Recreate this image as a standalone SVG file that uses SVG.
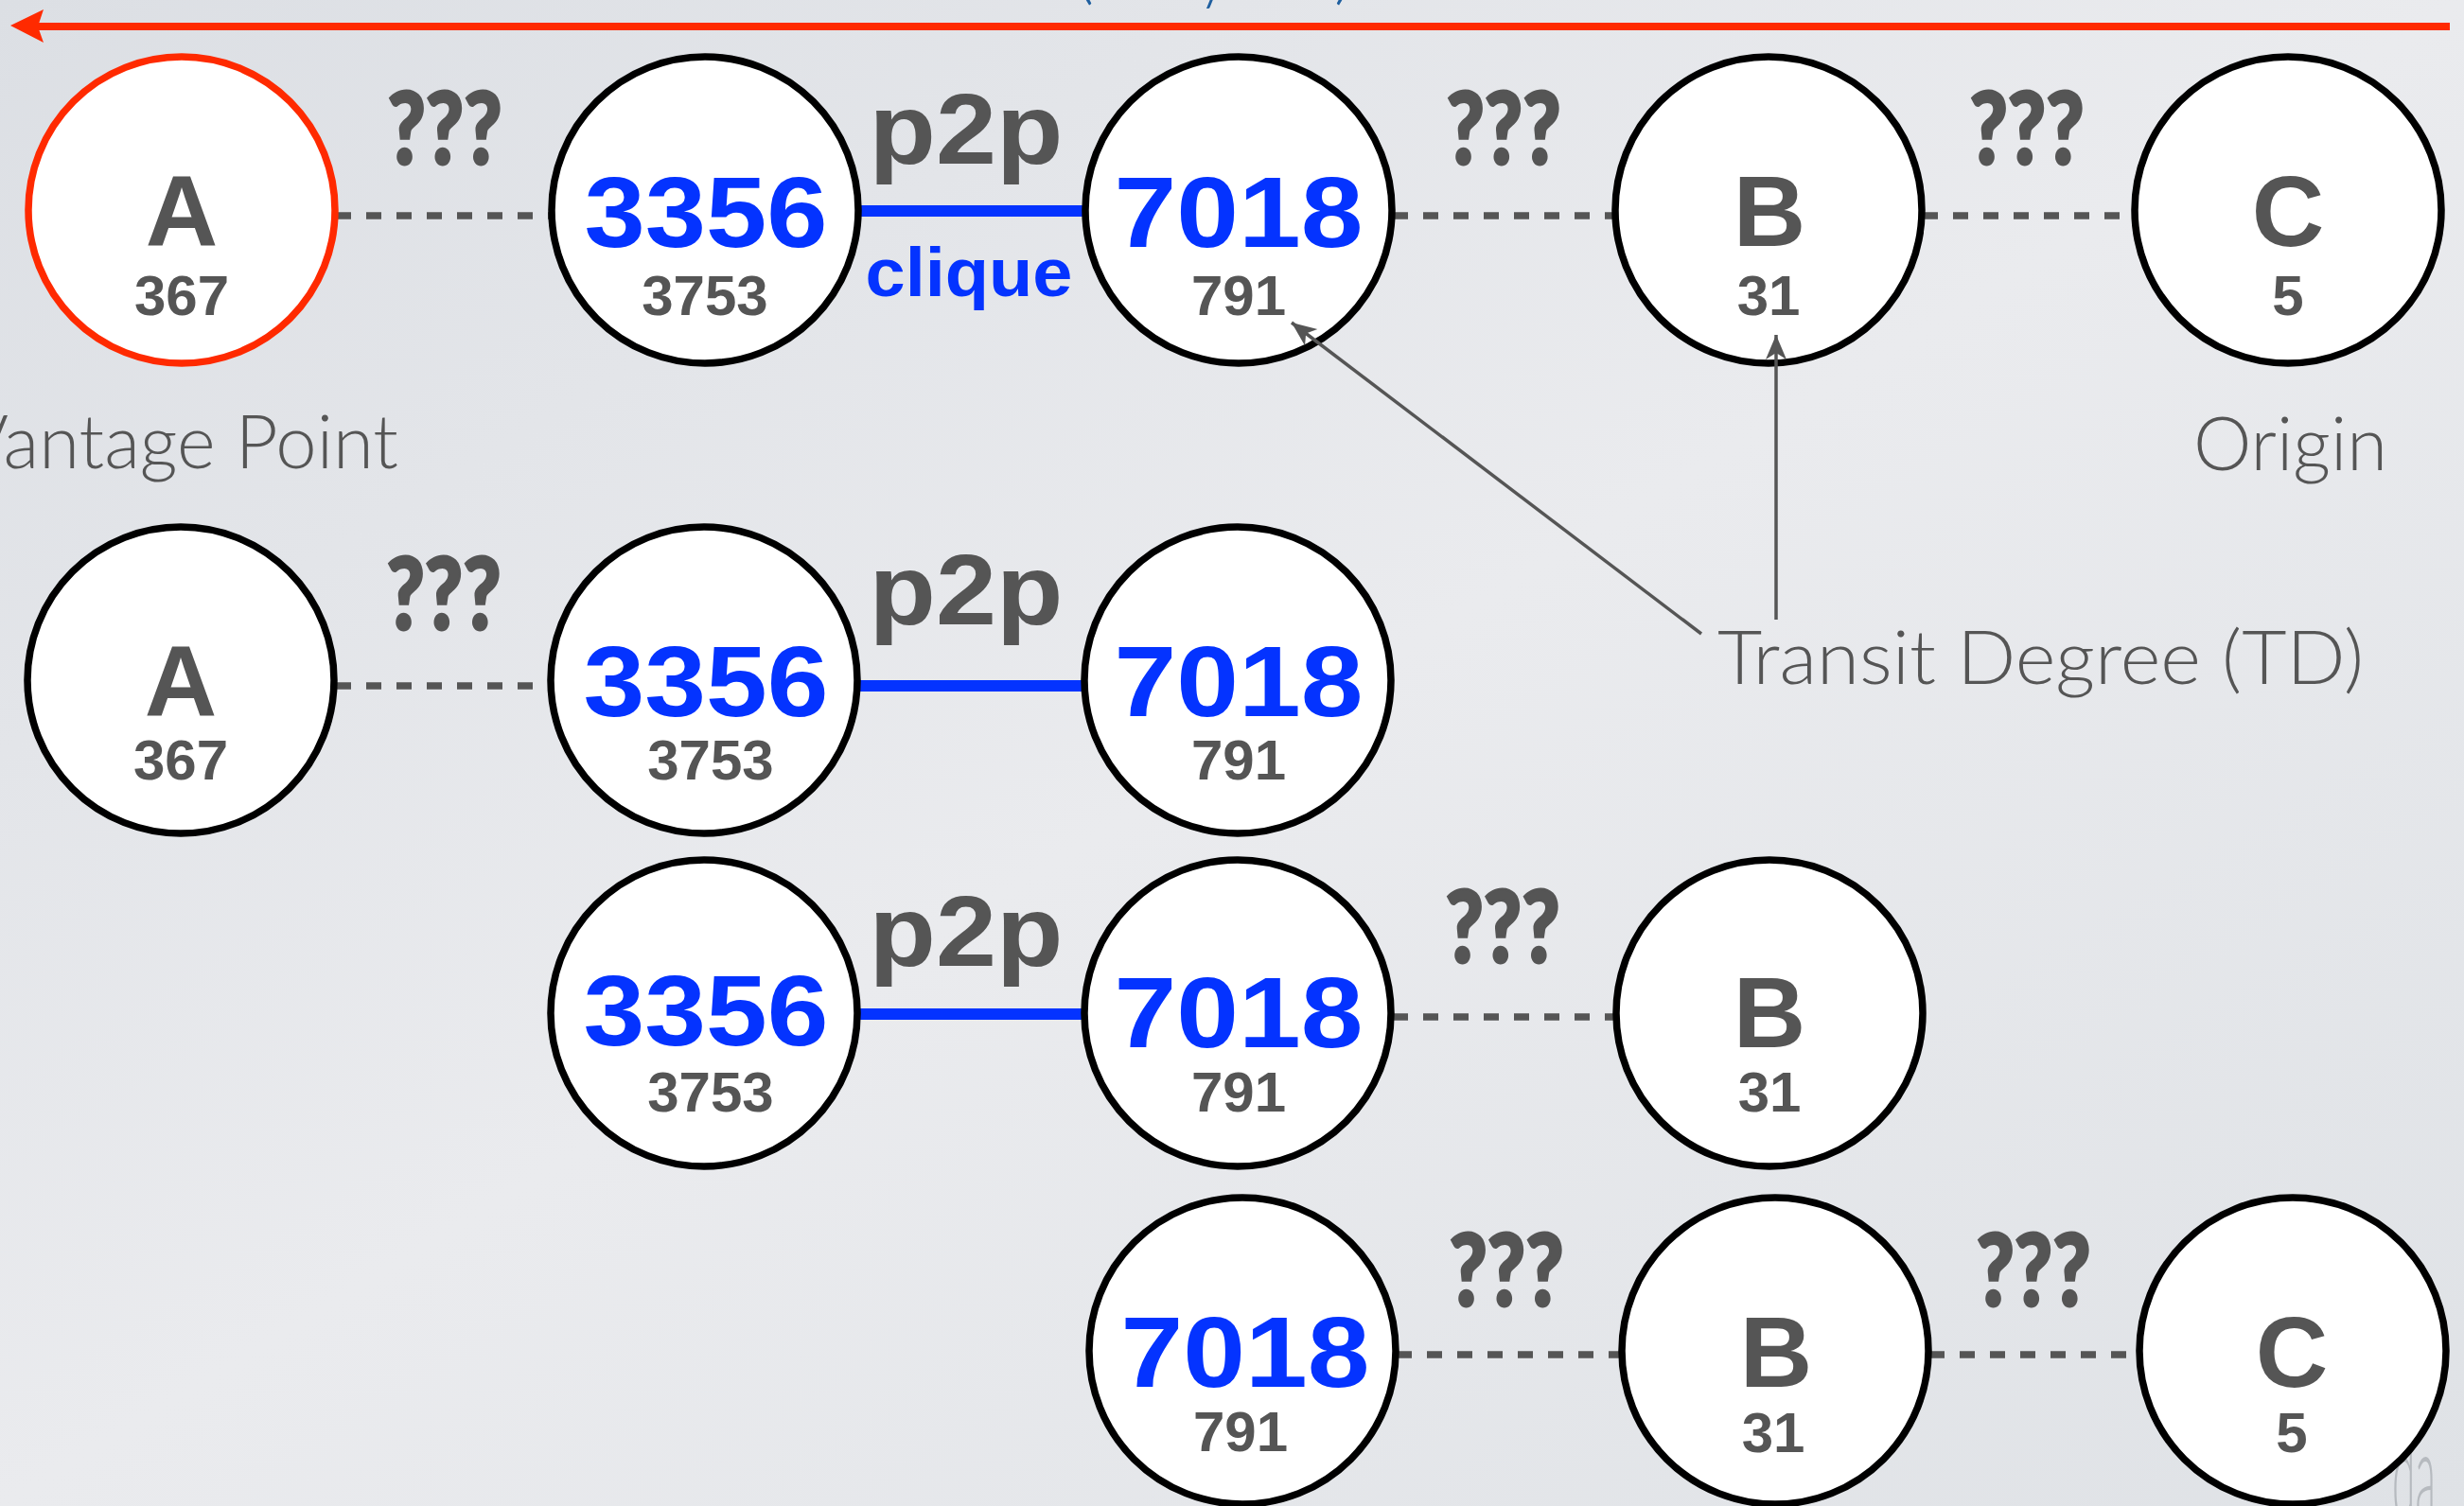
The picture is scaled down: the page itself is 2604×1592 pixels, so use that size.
<svg xmlns="http://www.w3.org/2000/svg" width="2604" height="1592" viewBox="0 0 2604 1592">
  <defs>
    <linearGradient id="bg" x1="0" y1="0" x2="1" y2="1">
      <stop offset="0" stop-color="#dcdfe4"/>
      <stop offset="0.5" stop-color="#eaebee"/>
      <stop offset="1" stop-color="#dfe2e6"/>
    </linearGradient>
    <marker id="tip" markerUnits="userSpaceOnUse" markerWidth="28" markerHeight="24" viewBox="0 0 28 24" refX="26" refY="12" orient="auto">
      <path d="M26,12 L0,1 L7,12 L0,23 Z" fill="#555"/>
    </marker>
  </defs>
  <style>
    .node circle { fill: #fff; stroke: #000; stroke-width: 7.5; }
    .node circle.vp { stroke: #ff2a00; }
    .big { font-family: "Liberation Sans", Arial, sans-serif; font-weight: bold; font-size: 106px; text-anchor: middle; }
    .num { font-family: "Liberation Sans", Arial, sans-serif; font-weight: bold; font-size: 60px; text-anchor: middle; fill: #555; }
    .g { fill: #555; }
    .b { fill: #0433ff; }
    .q { font-family: Lato, "Liberation Sans", Arial, sans-serif; font-weight: 900; font-size: 105px; text-anchor: middle; fill: #555; stroke: #555; stroke-width: 3; }
    .rel { font-family: "Liberation Sans", Arial, sans-serif; font-weight: bold; text-anchor: middle; }
    .light { font-family: Lato, "Open Sans", "Liberation Sans", sans-serif; font-weight: 300; font-size: 78px; fill: #555; }
    .dash { stroke: #555; stroke-width: 7.5; stroke-dasharray: 16 16; fill: none; }
    .peer { stroke: #0433ff; stroke-width: 12; fill: none; }
    .pointer { stroke: #555; stroke-width: 3.5; fill: none; marker-end: url(#tip); }
  </style>

  <rect width="2604" height="1592" fill="url(#bg)"/>

  <!-- heading, mostly above the top edge -->
  <text class="light" style="fill:#1f5f9f" font-size="80"><tspan x="1136" y="-5">(</tspan><tspan x="1272" y="6">/</tspan><tspan x="1410" y="-5">)</tspan></text>

  <!-- faint logo in the corner -->
  <text x="2528" y="1606" font-family="Lato, 'Liberation Sans', sans-serif" font-weight="300" font-size="130" fill="#b6babf" textLength="46" lengthAdjust="spacingAndGlyphs">da</text>

  <!-- path direction -->
  <g id="direction">
    <line x1="2589" y1="28" x2="40" y2="28" stroke="#ff2a00" stroke-width="8"/>
    <polygon points="11,27 46,10 40,28 46,45" fill="#ff2a00"/>
  </g>

  <!-- captions -->
  <text class="light" x="-42" y="495" textLength="463" lengthAdjust="spacingAndGlyphs">Vantage Point</text>
  <text class="light" x="2318" y="497" textLength="205" lengthAdjust="spacingAndGlyphs">Origin</text>
  <text class="light" x="1815" y="723" textLength="683" lengthAdjust="spacingAndGlyphs">Transit Degree (TD)</text>

  <g id="connectors">
    <!-- row 1 -->
    <line class="dash" x1="355" y1="228" x2="583" y2="228"/>
    <line class="peer" x1="906" y1="223" x2="1148" y2="223"/>
    <line class="dash" x1="1472" y1="228" x2="1706" y2="228"/>
    <line class="dash" x1="2032" y1="228" x2="2256" y2="228"/>
    <!-- row 2 -->
    <line class="dash" x1="355" y1="725" x2="583" y2="725"/>
    <line class="peer" x1="906" y1="725" x2="1148" y2="725"/>
    <!-- row 3 -->
    <line class="peer" x1="906" y1="1072" x2="1148" y2="1072"/>
    <line class="dash" x1="1472" y1="1075" x2="1708" y2="1075"/>
    <!-- row 4 -->
    <line class="dash" x1="1476" y1="1432" x2="1713" y2="1432"/>
    <line class="dash" x1="2039" y1="1432" x2="2261" y2="1432"/>

    <!-- link labels -->
    <text class="q" x="470" y="173" textLength="121" lengthAdjust="spacingAndGlyphs">???</text>
    <text class="q" x="1589" y="173" textLength="121" lengthAdjust="spacingAndGlyphs">???</text>
    <text class="q" x="2142" y="173" textLength="121" lengthAdjust="spacingAndGlyphs">???</text>
    <text class="rel g" x="1021" y="173" font-size="105" textLength="205" lengthAdjust="spacingAndGlyphs">p2p</text>
    <text class="rel b" x="1024" y="313" font-size="72" textLength="219" lengthAdjust="spacingAndGlyphs">clique</text>

    <text class="q" x="469" y="665" textLength="121" lengthAdjust="spacingAndGlyphs">???</text>
    <text class="rel g" x="1021" y="660" font-size="105" textLength="205" lengthAdjust="spacingAndGlyphs">p2p</text>

    <text class="rel g" x="1021" y="1021" font-size="105" textLength="205" lengthAdjust="spacingAndGlyphs">p2p</text>
    <text class="q" x="1588" y="1017" textLength="121" lengthAdjust="spacingAndGlyphs">???</text>

    <text class="q" x="1592" y="1380" textLength="121" lengthAdjust="spacingAndGlyphs">???</text>
    <text class="q" x="2149" y="1380" textLength="121" lengthAdjust="spacingAndGlyphs">???</text>
  </g>

  <!-- row 1 -->
  <g id="r1-A" class="node">
    <circle class="vp" cx="192" cy="222" r="162"/>
    <text class="big g" x="192" y="260">A</text>
    <text class="num" x="192" y="333">367</text>
  </g>
  <g id="r1-3356" class="node">
    <circle cx="745" cy="222" r="162"/>
    <text class="big b" x="746" y="261" textLength="257" lengthAdjust="spacingAndGlyphs">3356</text>
    <text class="num" x="745" y="333">3753</text>
  </g>
  <g id="r1-7018" class="node">
    <circle cx="1309" cy="222" r="162"/>
    <text class="big b" x="1309" y="261" textLength="263" lengthAdjust="spacingAndGlyphs">7018</text>
    <text class="num" x="1309" y="333">791</text>
  </g>
  <g id="r1-B" class="node">
    <circle cx="1869" cy="222" r="162"/>
    <text class="big g" x="1870" y="260">B</text>
    <text class="num" x="1869" y="333">31</text>
  </g>
  <g id="r1-C" class="node">
    <circle cx="2418" cy="222" r="162"/>
    <text class="big g" x="2418" y="260">C</text>
    <text class="num" x="2418" y="333">5</text>
  </g>

  <!-- row 2 -->
  <g id="r2-A" class="node">
    <circle cx="191" cy="719" r="162"/>
    <text class="big g" x="191" y="757">A</text>
    <text class="num" x="191" y="824">367</text>
  </g>
  <g id="r2-3356" class="node">
    <circle cx="744" cy="719" r="162"/>
    <text class="big b" x="746" y="757" textLength="259" lengthAdjust="spacingAndGlyphs">3356</text>
    <text class="num" x="751" y="824">3753</text>
  </g>
  <g id="r2-7018" class="node">
    <circle cx="1308" cy="719" r="162"/>
    <text class="big b" x="1309" y="757" textLength="263" lengthAdjust="spacingAndGlyphs">7018</text>
    <text class="num" x="1309" y="824">791</text>
  </g>

  <!-- row 3 -->
  <g id="r3-3356" class="node">
    <circle cx="744" cy="1071" r="162"/>
    <text class="big b" x="746" y="1105" textLength="259" lengthAdjust="spacingAndGlyphs">3356</text>
    <text class="num" x="751" y="1175">3753</text>
  </g>
  <g id="r3-7018" class="node">
    <circle cx="1308" cy="1071" r="162"/>
    <text class="big b" x="1309" y="1107" textLength="263" lengthAdjust="spacingAndGlyphs">7018</text>
    <text class="num" x="1309" y="1175">791</text>
  </g>
  <g id="r3-B" class="node">
    <circle cx="1870" cy="1071" r="162"/>
    <text class="big g" x="1870" y="1107">B</text>
    <text class="num" x="1870" y="1175">31</text>
  </g>

  <!-- row 4 -->
  <g id="r4-7018" class="node">
    <circle cx="1313" cy="1428" r="162"/>
    <text class="big b" x="1316" y="1466" textLength="263" lengthAdjust="spacingAndGlyphs">7018</text>
    <text class="num" x="1311" y="1534">791</text>
  </g>
  <g id="r4-B" class="node">
    <circle cx="1876" cy="1428" r="162"/>
    <text class="big g" x="1877" y="1466">B</text>
    <text class="num" x="1874" y="1535">31</text>
  </g>
  <g id="r4-C" class="node">
    <circle cx="2423" cy="1428" r="162"/>
    <text class="big g" x="2422" y="1466">C</text>
    <text class="num" x="2422" y="1535">5</text>
  </g>

  <!-- transit degree pointers -->
  <g id="pointers">
    <line class="pointer" x1="1798" y1="670" x2="1365" y2="341"/>
    <line class="pointer" x1="1877" y1="655" x2="1877" y2="354"/>
  </g>
</svg>
